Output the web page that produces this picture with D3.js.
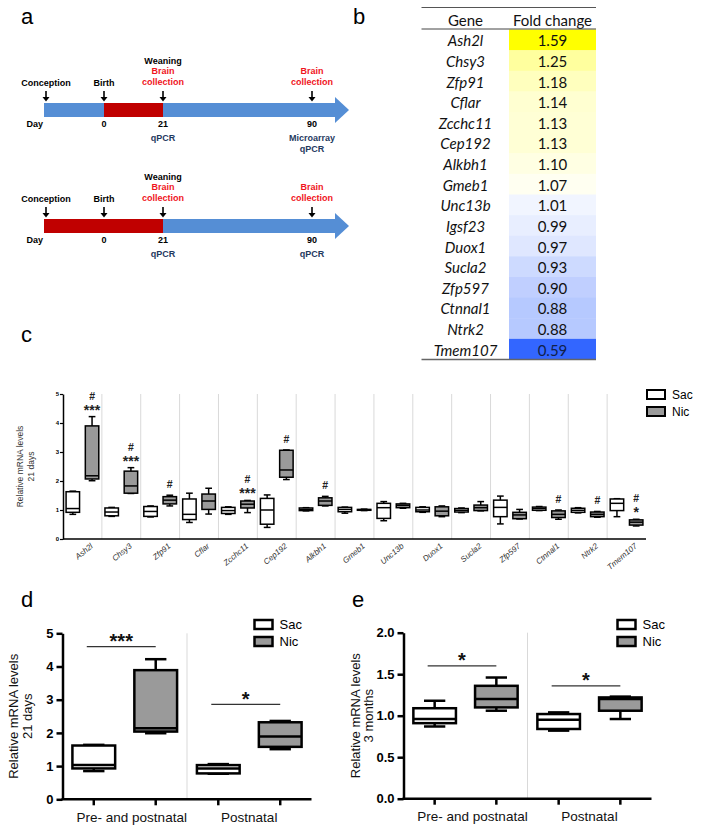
<!DOCTYPE html>
<html><head><meta charset="utf-8">
<script src="https://cdn.jsdelivr.net/npm/d3@7"></script>
<style>body{margin:0;background:#fff}</style>
</head><body><svg id="fig" width="701" height="832"></svg>
<script>
// ---------------- DATA ----------------
// Panel a: timeline (days; conception taken as day -21)
const timelineDays = [-21, 0, 21, 90];
const timelineEvents = ["Conception", "Birth", "Weaning", ""];
const timelineDayLabels = ["", "0", "21", "90"];
const collectionDays = [21, 90];
const exposureWindows = [[0, 21], [-21, 21]];
const assaysDay21 = [["qPCR"], ["qPCR"]];
const assaysDay90 = [["Microarray", "qPCR"], ["qPCR"]];

// Panel b: microarray fold changes
const tableGenes = ["Ash2l","Chsy3","Zfp91","Cflar","Zcchc11","Cep192","Alkbh1","Gmeb1","Unc13b","Igsf23","Duox1","Sucla2","Zfp597","Ctnnal1","Ntrk2","Tmem107"];
const foldChange = [1.59,1.25,1.18,1.14,1.13,1.13,1.10,1.07,1.01,0.99,0.97,0.93,0.90,0.88,0.88,0.59];

// Panel c: qPCR at 21 days, box stats [min, q1, median, q3, max]
const cGenes = ["Ash2l","Chsy3","Zfp91","Cflar","Zcchc11","Cep192","Alkbh1","Gmeb1","Unc13b","Duox1","Sucla2","Zfp597","Ctnnal1","Ntrk2","Tmem107"];
const cSac = [
  [0.85,0.92,1.05,1.63,1.65],[0.78,0.80,0.93,1.07,1.09],[0.76,0.78,0.95,1.12,1.14],
  [0.57,0.67,0.85,1.38,1.58],[0.85,0.88,0.98,1.09,1.11],[0.40,0.51,1.00,1.40,1.52],
  [0.97,0.98,1.02,1.07,1.08],[0.89,0.94,1.02,1.09,1.10],[0.63,0.71,1.08,1.23,1.29],
  [0.92,0.94,1.00,1.09,1.11],[0.91,0.93,0.99,1.05,1.07],[0.52,0.77,1.09,1.34,1.48],
  [0.98,0.99,1.05,1.10,1.12],[0.90,0.92,0.99,1.06,1.08],[0.77,0.98,1.23,1.38,1.39]];
const cNic = [
  [2.01,2.07,2.18,3.90,4.22],[1.57,1.58,1.83,2.34,2.46],[1.14,1.21,1.34,1.46,1.51],
  [0.86,1.02,1.31,1.55,1.75],[0.91,1.07,1.20,1.31,1.33],[2.05,2.13,2.38,3.06,3.07],
  [1.14,1.16,1.31,1.42,1.47],[0.98,0.99,1.01,1.02,1.03],[1.06,1.08,1.16,1.21,1.23],
  [0.77,0.80,0.96,1.11,1.14],[0.97,0.98,1.08,1.17,1.29],[0.69,0.70,0.83,0.92,1.02],
  [0.68,0.74,0.85,0.97,1.00],[0.75,0.77,0.85,0.93,0.95],[0.45,0.48,0.58,0.66,0.68]];
const cSigGenes = ["Ash2l","Chsy3","Zfp91","Zcchc11","Cep192","Alkbh1","Ctnnal1","Ntrk2","Tmem107"];
const cSigMarks = [["#","***"],["#","***"],["#"],["#","***"],["#"],["#"],["#"],["#"],["#","*"]];
const cTicks = [0,1,2,3,4,5];

// Panels d, e: Ash2l
const groups = ["Pre- and postnatal", "Postnatal"];
const treatments = ["Sac", "Nic"];
const dSac = [[0.85,0.93,1.03,1.62,1.64],[0.77,0.78,0.93,1.03,1.06]];
const dNic = [[1.99,2.04,2.14,3.89,4.22],[1.51,1.58,1.89,2.32,2.36]];
const dSig = ["***", "*"];
const dSigLevel = [4.6, 2.86];
const dTicks = [0,1,2,3,4,5];
const eSac = [[0.87,0.91,0.96,1.09,1.18],[0.82,0.84,0.95,1.02,1.04]];
const eNic = [[1.06,1.10,1.20,1.36,1.46],[0.96,1.06,1.20,1.22,1.23]];
const eSig = ["*", "*"];
const eSigLevel = [1.60, 1.36];
const eTicks = [0,0.5,1,1.5,2];

// ---------------- DRAWING ----------------
const FONT = "'Liberation Sans', Arial, Helvetica, sans-serif";
const svg = d3.select("#fig").attr("font-family", FONT);
svg.append("rect").attr("width",701).attr("height",832).attr("fill","#fff");
const FILL = {Sac:"#ffffff", Nic:"#9a9a9a"};

// panel letters
[["a",21,24],["b",353,24],["c",21,342],["d",21,607],["e",352,607]].forEach(([t,x,y])=>
  svg.append("text").attr("x",x).attr("y",y).attr("font-size",22).text(t));

// ---- Panel a ----
const xDay = d3.scaleLinear().domain(timelineDays).range([46,104,163,312]);
const barEnd = 335, tip = 349, barH = 14;
[103, 219].forEach((top, i) => {
  const g = svg.append("g");
  const x0 = xDay(timelineDays[0]) - 2;
  g.append("rect").attr("x",x0).attr("y",top).attr("width",barEnd-x0).attr("height",barH).attr("fill","#558ed5");
  g.append("path").attr("d",`M${barEnd},${top-6}L${tip},${top+barH/2}L${barEnd},${top+barH+6}Z`).attr("fill","#558ed5");
  const w = exposureWindows[i];
  const rx0 = w[0] <= timelineDays[0] ? x0 : xDay(w[0]);
  g.append("rect").attr("x",rx0).attr("y",top).attr("width",xDay(w[1])-rx0).attr("height",barH).attr("fill","#c00000");
  // arrows
  timelineDays.forEach(d => {
    const x = xDay(d);
    g.append("line").attr("x1",x).attr("x2",x).attr("y1",top-12).attr("y2",top-5).attr("stroke","#000").attr("stroke-width",1.6);
    g.append("path").attr("d",`M${x-3.5},${top-6}L${x+3.5},${top-6}L${x},${top-1.5}Z`).attr("fill","#000");
  });
  const txt = (x,y,t,col,anchor) => g.append("text").attr("x",x).attr("y",y).attr("font-size",9).attr("font-weight","bold")
      .attr("fill",col||"#000").attr("text-anchor",anchor||"middle").text(t);
  timelineDays.forEach((d,j) => {
    if (timelineEvents[j] === "Weaning") txt(xDay(d), top-39, timelineEvents[j]);
    else if (timelineEvents[j]) txt(xDay(d), top-17, timelineEvents[j]);
    if (timelineDayLabels[j]) txt(xDay(d), top+24, timelineDayLabels[j]);
  });
  txt(x0-1, top+24, "Day", "#000", "end");
  collectionDays.forEach(d => { txt(xDay(d), top-29, "Brain", "#f0141e"); txt(xDay(d), top-18, "collection", "#f0141e"); });
  assaysDay21[i].forEach((a,k) => txt(xDay(21), top+38+k*11, a, "#1f3a5f"));
  assaysDay90[i].forEach((a,k) => txt(xDay(90), top+38+k*11, a, "#1f3a5f"));
});

// ---- Panel b ----
{
  const g = svg.append("g").attr("font-family","Lato, 'Open Sans', sans-serif");
  const tx0 = 421.5, tx1 = 596, cellX = 509, geneX = 465.5, valX = 552.5;
  const rowY = d3.scaleBand().domain(tableGenes).range([29.5, 359.5]);
  const col = d3.scaleLinear().domain([d3.min(foldChange), d3.median(foldChange), d3.max(foldChange)])
      .range(["#3366ff","#ffffff","#ffff00"]);
  g.selectAll("rect.cell").data(tableGenes).join("rect").attr("class","cell")
    .attr("x",cellX).attr("width",tx1-cellX).attr("y",d=>rowY(d)).attr("height",rowY.bandwidth()+0.5)
    .attr("fill",(d,i)=>col(foldChange[i]));
  g.selectAll("text.gene").data(tableGenes).join("text").attr("class","gene")
    .attr("x",geneX).attr("y",d=>rowY(d)+rowY.bandwidth()/2+6.5).attr("text-anchor","middle")
    .attr("font-size",15).attr("font-style","italic").attr("fill","#111").text(d=>d);
  g.selectAll("text.val").data(foldChange).join("text").attr("class","val")
    .attr("x",valX).attr("y",(d,i)=>rowY(tableGenes[i])+rowY.bandwidth()/2+6.5).attr("text-anchor","middle")
    .attr("font-size",15).attr("fill",(d)=>d<0.7?"#10204a":"#111").text(d=>d.toFixed(2));
  g.append("text").attr("x",geneX).attr("y",25.5).attr("text-anchor","middle").attr("font-size",15).attr("fill","#111").text("Gene");
  g.append("text").attr("x",valX).attr("y",25.5).attr("text-anchor","middle").attr("font-size",15).attr("fill","#111").text("Fold change");
  g.append("line").attr("x1",tx0).attr("x2",tx1).attr("y1",7.5).attr("y2",7.5).attr("stroke","#555").attr("stroke-width",1);
  g.append("line").attr("x1",tx0).attr("x2",tx1).attr("y1",29).attr("y2",29).attr("stroke","#444").attr("stroke-width",1);
  g.append("line").attr("x1",tx0).attr("x2",tx1).attr("y1",359.5).attr("y2",359.5).attr("stroke","#666").attr("stroke-width",1.5);
}

// ---- generic box drawer ----
function drawBoxes(g, cats, stats, trt, xOuter, xInner, y, sw) {
  cats.forEach((c, i) => {
    const s = stats[i];
    const w = xInner.bandwidth(), x0 = xOuter(c) + xInner(trt), cx = x0 + w/2, cap = w/2;
    const L = (x1,y1,x2,y2) => g.append("line").attr("x1",x1).attr("y1",y1).attr("x2",x2).attr("y2",y2)
        .attr("stroke","#000").attr("stroke-width",sw);
    L(cx, y(s[3]), cx, y(s[4])); L(cx-cap/2, y(s[4]), cx+cap/2, y(s[4]));
    L(cx, y(s[1]), cx, y(s[0])); L(cx-cap/2, y(s[0]), cx+cap/2, y(s[0]));
    g.append("rect").attr("x",x0).attr("width",w).attr("y",y(s[3])).attr("height",Math.max(0.5,y(s[1])-y(s[3])))
      .attr("fill",FILL[trt]).attr("stroke","#000").attr("stroke-width",sw);
    L(x0, y(s[2]), x0+w, y(s[2]));
  });
}
function legend(g, x, y, bw, bh, fs, gap, sw) {
  treatments.forEach((t,i) => {
    g.append("rect").attr("x",x).attr("y",y+i*gap).attr("width",bw).attr("height",bh)
      .attr("fill",FILL[t]).attr("stroke","#000").attr("stroke-width",sw);
    g.append("text").attr("x",x+bw+7).attr("y",y+i*gap+bh/2).attr("dy","0.36em").attr("font-size",fs).text(t);
  });
}

// ---- Panel c ----
{
  const g = svg.append("g");
  const x = d3.scaleBand().domain(cGenes).range([63, 646]);
  const xi = d3.scaleBand().domain(treatments).range([0, x.bandwidth()]).paddingInner(0.3).paddingOuter(0.16);
  const y = d3.scaleLinear().domain([0,5]).range([539, 394]);
  cGenes.slice(1).forEach(c => g.append("line").attr("x1",x(c)).attr("x2",x(c)).attr("y1",y(5)).attr("y2",y(0))
      .attr("stroke","#d9d9d9").attr("stroke-width",1));
  drawBoxes(g, cGenes, cSac, "Sac", x, xi, y, 1.5);
  drawBoxes(g, cGenes, cNic, "Nic", x, xi, y, 1.5);
  const ax = g.append("g").attr("transform","translate(63,0)")
    .call(d3.axisLeft(y).tickValues(cTicks).tickSize(3).tickSizeOuter(0).tickPadding(1).tickFormat(d3.format("d")));
  ax.select(".domain").attr("stroke-width",1.5);
  ax.selectAll("line").attr("stroke-width",1.2);
  ax.selectAll("text").attr("font-size",6).attr("font-weight","bold").attr("font-family",FONT);
  g.append("line").attr("x1",63).attr("x2",646).attr("y1",y(0)).attr("y2",y(0)).attr("stroke","#000").attr("stroke-width",1.5);
  cGenes.forEach(c => g.append("text")
    .attr("transform",`translate(${x(c)+x.bandwidth()/2+11},${y(0)+8}) rotate(-40)`)
    .attr("text-anchor","end").attr("font-size",8).attr("font-style","italic").attr("fill","#333").text(c));
  // significance marks above Nic whisker top
  cSigGenes.forEach((c, i) => {
    const s = cNic[cGenes.indexOf(c)];
    const cx = x(c) + xi("Nic") + xi.bandwidth()/2;
    const wt = y(s[4]);
    const marks = cSigMarks[i];
    marks.forEach(m => {
      const isHash = m === "#";
      const yy = marks.length === 1 ? wt - 7 : (isHash ? wt - 17 : wt - 2);
      g.append("text").attr("x",cx).attr("y",yy)
        .attr("text-anchor","middle").attr("font-size",isHash?10.5:14).attr("font-weight","bold").attr("fill","#222").text(m);
    });
  });
  g.append("text").attr("transform",`translate(20,${(y(0)+y(5))/2}) rotate(-90)`).attr("text-anchor","middle")
    .attr("dy","0.35em").attr("font-size",8.5).attr("fill","#333").text("Relative mRNA levels");
  g.append("text").attr("transform",`translate(31,${(y(0)+y(5))/2}) rotate(-90)`).attr("text-anchor","middle")
    .attr("dy","0.35em").attr("font-size",8.5).attr("fill","#333").text("21 days");
  legend(g, 647, 390, 18, 9, 12, 17, 2);
}

// ---- Panels d & e ----
function smallPanel(ox, x1, yTop, yBot, dom, ticks, fmt, sac, nic, sig, sigLevel, line2, lx1, lx2, legX) {
  const g = svg.append("g");
  const x = d3.scaleBand().domain(groups).range([ox, x1]);
  const xi = d3.scaleBand().domain(treatments).range([0, x.bandwidth()]).paddingInner(0.31).paddingOuter(0.16);
  const y = d3.scaleLinear().domain(dom).range([yBot, yTop]);
  g.append("line").attr("x1",x(groups[1])).attr("x2",x(groups[1])).attr("y1",yTop).attr("y2",yBot)
    .attr("stroke","#d9d9d9").attr("stroke-width",1);
  drawBoxes(g, groups, sac, "Sac", x, xi, y, 2.5);
  drawBoxes(g, groups, nic, "Nic", x, xi, y, 2.5);
  const ax = g.append("g").attr("transform",`translate(${ox},0)`)
    .call(d3.axisLeft(y).tickValues(ticks).tickSize(6).tickSizeOuter(0).tickPadding(3).tickFormat(d3.format(fmt)));
  ax.select(".domain").attr("stroke-width",2.5);
  ax.selectAll("line").attr("stroke-width",2.5);
  ax.selectAll("text").attr("font-size",13).attr("font-weight","bold").attr("font-family",FONT).attr("fill","#000");
  g.append("line").attr("x1",ox-1).attr("x2",x1).attr("y1",yBot).attr("y2",yBot).attr("stroke","#000").attr("stroke-width",2.5);
  groups.forEach(gr => treatments.forEach(t => {
    const cx = x(gr) + xi(t) + xi.bandwidth()/2;
    g.append("line").attr("x1",cx).attr("x2",cx).attr("y1",yBot).attr("y2",yBot+6).attr("stroke","#000").attr("stroke-width",2.5);
  }));
  groups.forEach((gr,i) => g.append("text").attr("x",x(gr)+x.bandwidth()/2 + (i===0?7:0)).attr("y",yBot+22.5)
    .attr("text-anchor","middle").attr("font-size",13.5).attr("fill","#111").text(gr));
  groups.forEach((gr,i) => {
    const a = x(gr) + xi("Sac") + xi.bandwidth()/2 - 7, b = x(gr) + xi("Nic") + xi.bandwidth()/2;
    const yy = y(sigLevel[i]);
    g.append("line").attr("x1",a).attr("x2",b).attr("y1",yy).attr("y2",yy).attr("stroke","#333").attr("stroke-width",1.2);
    g.append("text").attr("x",(a+b)/2).attr("y",yy+1.5).attr("text-anchor","middle").attr("font-size",20)
      .attr("font-weight","bold").attr("fill","#111").text(sig[i]);
  });
  const mid = (yTop+yBot)/2;
  g.append("text").attr("transform",`translate(${lx1},${mid}) rotate(-90)`).attr("text-anchor","middle").attr("dy","0.35em")
    .attr("font-size",13).attr("fill","#111").text("Relative mRNA levels");
  g.append("text").attr("transform",`translate(${lx2},${mid}) rotate(-90)`).attr("text-anchor","middle").attr("dy","0.35em")
    .attr("font-size",13).attr("fill","#111").text(line2);
  legend(g, legX, 620, 18, 9, 13, 17, 2.5);
}
smallPanel(62.5, 311.5, 633.3, 799.3, [0,5], dTicks, "d", dSac, dNic, dSig, dSigLevel, "21 days", 13, 27, 254.5);
smallPanel(403.5, 651.5, 632.7, 798.7, [0,2], eTicks, ".1f", eSac, eNic, eSig, eSigLevel, "3 months", 355, 368.5, 617.5);
</script></body></html>
